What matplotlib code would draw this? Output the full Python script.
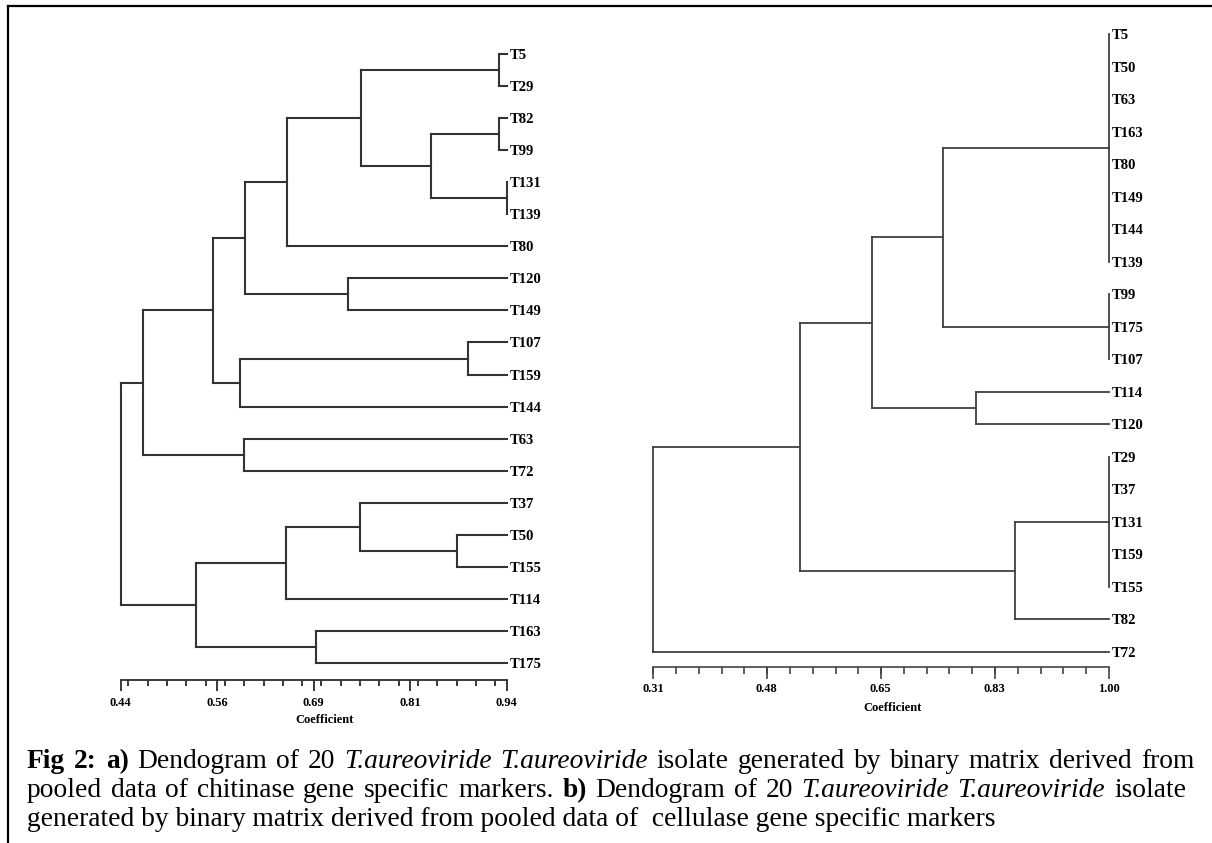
import matplotlib
matplotlib.use("Agg")
import matplotlib.pyplot as plt
from matplotlib.lines import Line2D
from matplotlib.ticker import FixedLocator, MultipleLocator

# ---------------- data ----------------
# a) chitinase markers
leaves_a = ["T5", "T29", "T82", "T99", "T131", "T139", "T80", "T120", "T149", "T107",
            "T159", "T144", "T63", "T72", "T37", "T50", "T155", "T114", "T163", "T175"]
# each merge: (children ids, coefficient); ids >= 20 refer to earlier merges
merge_children_a = [(0, 1), (2, 3), (4, 5), (21, 22), (20, 23), (24, 6), (7, 8), (25, 26),
                    (9, 10), (28, 11), (27, 29), (12, 13), (30, 31), (15, 16), (14, 33),
                    (34, 17), (18, 19), (35, 36), (32, 37)]
merge_heights_a = [0.930, 0.930, 0.940, 0.842, 0.751, 0.656, 0.735, 0.601,
                   0.890, 0.594, 0.560, 0.600, 0.469, 0.875, 0.750,
                   0.654, 0.693, 0.538, 0.440]
leaf_level_a = 0.94
ticks_a = [0.44, 0.565, 0.69, 0.815, 0.94]
ticklabels_a = ["0.44", "0.56", "0.69", "0.81", "0.94"]

# b) cellulase markers
leaves_b = ["T5", "T50", "T63", "T163", "T80", "T149", "T144", "T139", "T99", "T175",
            "T107", "T114", "T120", "T29", "T37", "T131", "T159", "T155", "T82", "T72"]
merge_children_b = [(0, 1, 2, 3, 4, 5, 6, 7), (8, 9, 10), (20, 21), (11, 12), (22, 23),
                    (13, 14, 15, 16, 17), (25, 18), (24, 26), (27, 19)]
merge_heights_b = [1.00, 1.00, 0.749, 0.799, 0.641, 1.00, 0.858, 0.532, 0.31]
leaf_level_b = 1.00
ticks_b = [0.31, 0.4825, 0.655, 0.8275, 1.00]
ticklabels_b = ["0.31", "0.48", "0.65", "0.83", "1.00"]

caption_lines = [
    [("Fig 2: a)", "bold"), ("Dendogram of 20", "normal"), ("T.aureoviride T.aureoviride", "italic"),
     ("isolate generated by binary matrix derived from", "normal")],
    [("pooled data of chitinase gene specific markers.", "normal"), ("b)", "bold"),
     ("Dendogram of 20", "normal"), ("T.aureoviride T.aureoviride", "italic"), ("isolate", "normal")],
    [("generated by binary matrix derived from pooled data of  cellulase gene specific markers", "normal")],
]

# ---------------- figure ----------------
W, H = 1212, 843
fig = plt.figure(figsize=(W / 100, H / 100), dpi=100)
fig.patch.set_facecolor("white")

LABEL_FONT = dict(family="Liberation Serif", fontweight="bold")


def px_axes(x0, x1, ytop, ybot):
    return fig.add_axes([x0 / W, 1 - ybot / H, (x1 - x0) / W, (ybot - ytop) / H])


def draw_dendrogram(ax, leaves, children, heights, leaf_level, color, lw):
    n = len(leaves)
    ypos = {i: float(i) for i in range(n)}
    hpos = {i: leaf_level for i in range(n)}
    for k, (ch, h) in enumerate(zip(children, heights)):
        node = n + k
        ys = [ypos[c] for c in ch]
        for c in ch:
            ax.plot([hpos[c], h], [ypos[c], ypos[c]], color=color, lw=lw,
                    solid_capstyle="projecting", clip_on=False)
        ax.plot([h, h], [min(ys), max(ys)], color=color, lw=lw,
                solid_capstyle="projecting", clip_on=False)
        ypos[node] = sum(ys) / len(ys)
        hpos[node] = h


def make_panel(leaves, children, heights, leaf_level, x0px, x1px, first_px, last_px, axis_px,
               xlim, ticks, ticklabels, minor_step, coef_x_px, coef_y_px, color, lw,
               maj_len, min_len, tick_pad, fs_leaf, fs_tick, fs_coef):
    n = len(leaves)
    s = (last_px - first_px) / (n - 1)
    top_px = first_px - 0.7 * s
    ax = px_axes(x0px, x1px, top_px, axis_px)
    ax.set_xlim(*xlim)
    ax.set_ylim((n - 1) + (axis_px - last_px) / s, -0.7)
    draw_dendrogram(ax, leaves, children, heights, leaf_level, color, lw)
    for sp in ["top", "left", "right"]:
        ax.spines[sp].set_visible(False)
    ax.spines["bottom"].set_color(color)
    ax.spines["bottom"].set_linewidth(lw * 0.9)
    ax.xaxis.set_major_locator(FixedLocator(ticks))
    ax.xaxis.set_minor_locator(MultipleLocator(minor_step))
    ax.set_xticklabels(ticklabels, fontsize=fs_tick, **LABEL_FONT)
    ax.tick_params(axis="x", which="major", direction="out", length=maj_len, width=lw * 0.9,
                   color=color, pad=tick_pad)
    ax.tick_params(axis="x", which="minor", direction="out", length=min_len, width=lw * 0.9,
                   color=color)
    # leaf labels on the right
    ax.yaxis.tick_right()
    ax.set_yticks(range(n))
    ax.set_yticklabels(leaves, fontsize=fs_leaf, **LABEL_FONT)
    ax.tick_params(axis="y", length=0, pad=2.0)
    ax.patch.set_alpha(0)
    # axis title
    ax.set_xlabel("Coefficient", fontsize=fs_coef, **LABEL_FONT)
    ax_h = axis_px - top_px
    ax.xaxis.set_label_coords((coef_x_px - x0px) / (x1px - x0px), -(coef_y_px - axis_px) / ax_h)
    ax.xaxis.label.set_va("center")
    return ax


make_panel(leaves_a, merge_children_a, merge_heights_a, leaf_level_a,
           120.7, 506.7, 54, 663, 680, (0.44, 0.94), ticks_a, ticklabels_a, 0.025,
           325, 720, "#333333", 1.5, 8.0, 4.0, 4.0, 10.5, 9, 9)

make_panel(leaves_b, merge_children_b, merge_heights_b, leaf_level_b,
           653, 1108.5, 34, 652, 667, (0.31, 1.00), ticks_b, ticklabels_b, 0.0345,
           893, 708, "#404040", 1.3, 8.5, 5.0, 3.0, 10.5, 9, 9)

# ---------------- frame ----------------
fig.add_artist(Line2D([8 / W, 1.0], [1 - 6 / H, 1 - 6 / H], color="black", lw=1.6,
                      transform=fig.transFigure))
fig.add_artist(Line2D([8 / W, 8 / W], [1 - 6 / H, 0.0], color="black", lw=1.6,
                      transform=fig.transFigure))

# ---------------- caption ----------------
CAP_FAMILY = "Liberation Serif"
renderer = fig.canvas.get_renderer()


def measure(txt, style, fs):
    kw = {}
    if style == "bold":
        kw["fontweight"] = "bold"
    if style == "italic":
        kw["fontstyle"] = "italic"
    t = fig.text(0, 0, txt, fontsize=fs, family=CAP_FAMILY, **kw)
    w = t.get_window_extent(renderer).width
    t.remove()
    return w, kw


# font size chosen so the last (unjustified) line ends where the reference does
x_left = 27.0
target_last = 995.0 - x_left
fs = 16.0
w_last, _ = measure(caption_lines[2][0][0], "normal", fs)
fs = fs * target_last / w_last

right_edges = [1194.0, 1186.0, None]
baselines = [768.0, 797.0, 826.0]

for line, right, base in zip(caption_lines, right_edges, baselines):
    words = []
    for txt, style in line:
        for wd in txt.split(" "):
            if wd:
                words.append((wd, style))
    if right is None:
        txt, style = line[0]
        _, kw = measure(txt, style, fs)
        fig.text(x_left / W, 1 - base / H, txt, fontsize=fs, family=CAP_FAMILY,
                 va="baseline", ha="left", **kw)
        continue
    widths = []
    for wd, style in words:
        w, kw = measure(wd, style, fs)
        widths.append((w, kw))
    total = sum(w for w, _ in widths)
    gap = (right - x_left - total) / (len(words) - 1)
    x = x_left
    for (wd, style), (w, kw) in zip(words, widths):
        fig.text(x / W, 1 - base / H, wd, fontsize=fs, family=CAP_FAMILY,
                 va="baseline", ha="left", **kw)
        x += w + gap

fig.savefig("out.png", dpi=100, facecolor="white")
